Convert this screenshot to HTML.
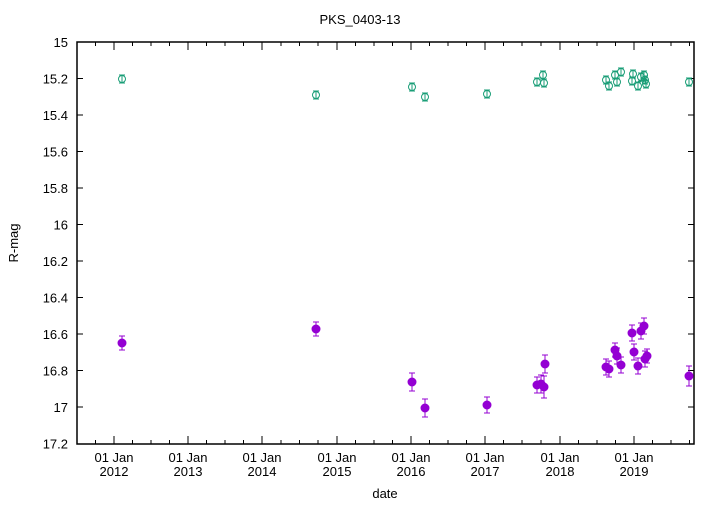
<!DOCTYPE html><html><head><style>body{margin:0;background:#fff}</style></head><body>
<svg width="720" height="504" xmlns="http://www.w3.org/2000/svg" font-family="Liberation Sans, sans-serif" font-size="13">
<rect width="720" height="504" fill="#fff"/>
<text x="360" y="24" text-anchor="middle">PKS_0403-13</text>
<rect x="77" y="42" width="617" height="402" fill="none" stroke="#000" stroke-width="1.5"/>
<g text-anchor="end">
<text x="68" y="47">15</text><text x="68" y="83.5">15.2</text><text x="68" y="120">15.4</text><text x="68" y="156.5">15.6</text><text x="68" y="193">15.8</text><text x="68" y="229.5">16</text><text x="68" y="266">16.2</text><text x="68" y="302.5">16.4</text><text x="68" y="339">16.6</text><text x="68" y="375.5">16.8</text><text x="68" y="412">17</text><text x="68" y="448.5">17.2</text>
</g>
<g text-anchor="middle">
<text x="114" y="462">01 Jan</text><text x="114" y="476">2012</text>
<text x="188" y="462">01 Jan</text><text x="188" y="476">2013</text>
<text x="262" y="462">01 Jan</text><text x="262" y="476">2014</text>
<text x="337" y="462">01 Jan</text><text x="337" y="476">2015</text>
<text x="411" y="462">01 Jan</text><text x="411" y="476">2016</text>
<text x="485" y="462">01 Jan</text><text x="485" y="476">2017</text>
<text x="560" y="462">01 Jan</text><text x="560" y="476">2018</text>
<text x="634" y="462">01 Jan</text><text x="634" y="476">2019</text>
<text x="385" y="498">date</text>
</g>
<text transform="translate(18,243) rotate(-90)" text-anchor="middle">R-mag</text>
<path stroke="#000" fill="none" d="
M77 78.5h6M694 78.5h-6M77 115h6M694 115h-6M77 151.5h6M694 151.5h-6M77 188h6M694 188h-6M77 224.5h6M694 224.5h-6M77 261h6M694 261h-6M77 297.5h6M694 297.5h-6M77 334h6M694 334h-6M77 370.5h6M694 370.5h-6M77 407h6M694 407h-6
M114 444v-8M114 42v8M188 444v-8M188 42v8M262 444v-8M262 42v8M337 444v-8M337 42v8M411 444v-8M411 42v8M485 444v-8M485 42v8M560 444v-8M560 42v8M634 444v-8M634 42v8
M95.5 444v-4M95.5 42v4M132.5 444v-4M132.5 42v4M151 444v-4M151 42v4M169.5 444v-4M169.5 42v4M206.5 444v-4M206.5 42v4M225 444v-4M225 42v4M243.5 444v-4M243.5 42v4M281 444v-4M281 42v4M299.5 444v-4M299.5 42v4M318 444v-4M318 42v4M355.5 444v-4M355.5 42v4M374 444v-4M374 42v4M392.5 444v-4M392.5 42v4M429.5 444v-4M429.5 42v4M448 444v-4M448 42v4M466.5 444v-4M466.5 42v4M503.5 444v-4M503.5 42v4M522 444v-4M522 42v4M541 444v-4M541 42v4M578.5 444v-4M578.5 42v4M597 444v-4M597 42v4M615.5 444v-4M615.5 42v4M652.5 444v-4M652.5 42v4M671 444v-4M671 42v4M689.5 444v-4M689.5 42v4"/>
<g stroke="#1a9e77" fill="none" stroke-width="1">
<path d="M122 75v8M119 75h6M119 83h6 M316 91v8M313 91h6M313 99h6 M412 83v8M409 83h6M409 91h6 M425 93v8M422 93h6M422 101h6 M487 90v8M484 90h6M484 98h6 M537 78v8M534 78h6M534 86h6 M543 71v8M540 71h6M540 79h6 M544 79v8M541 79h6M541 87h6 M606 76v8M603 76h6M603 84h6 M609 82v8M606 82h6M606 90h6 M615 71v8M612 71h6M612 79h6 M617 78v8M614 78h6M614 86h6 M621 68v8M618 68h6M618 76h6 M633 70v8M630 70h6M630 78h6 M632 77v8M629 77h6M629 85h6 M638 82v8M635 82h6M635 90h6 M641 73v8M638 73h6M638 81h6 M644 71v8M641 71h6M641 79h6 M645 76v8M642 76h6M642 84h6 M646 80v8M643 80h6M643 88h6 M689 78v8M686 78h6M686 86h6"/>
<circle cx="122" cy="79" r="3.5"/><circle cx="316" cy="95" r="3.5"/><circle cx="412" cy="87" r="3.5"/><circle cx="425" cy="97" r="3.5"/><circle cx="487" cy="94" r="3.5"/><circle cx="537" cy="82" r="3.5"/><circle cx="543" cy="75" r="3.5"/><circle cx="544" cy="83" r="3.5"/><circle cx="606" cy="80" r="3.5"/><circle cx="609" cy="86" r="3.5"/><circle cx="615" cy="75" r="3.5"/><circle cx="617" cy="82" r="3.5"/><circle cx="621" cy="72" r="3.5"/><circle cx="633" cy="74" r="3.5"/><circle cx="632" cy="81" r="3.5"/><circle cx="638" cy="86" r="3.5"/><circle cx="641" cy="77" r="3.5"/><circle cx="644" cy="75" r="3.5"/><circle cx="645" cy="80" r="3.5"/><circle cx="646" cy="84" r="3.5"/><circle cx="689" cy="82" r="3.5"/>
</g>
<g stroke="#9400d3" fill="#9400d3" stroke-width="1">
<path fill="none" d="M122 336v14M119 336h6M119 350h6 M316 322v14M313 322h6M313 336h6 M412 373v18M409 373h6M409 391h6 M425 399v18M422 399h6M422 417h6 M487 397v16M484 397h6M484 413h6 M537 377v16M534 377h6M534 393h6 M541 375v18M538 375h6M538 393h6 M544 376v22M541 376h6M541 398h6 M545 355v18M542 355h6M542 373h6 M606 359v16M603 359h6M603 375h6 M609 361v16M606 361h6M606 377h6 M615 343v14M612 343h6M612 357h6 M617 348v16M614 348h6M614 364h6 M621 357v16M618 357h6M618 373h6 M632 325v16M629 325h6M629 341h6 M634 344v16M631 344h6M631 360h6 M638 358v16M635 358h6M635 374h6 M641 323v16M638 323h6M638 339h6 M644 318v16M641 318h6M641 334h6 M645 351v16M642 351h6M642 367h6 M647 349v14M644 349h6M644 363h6 M689 366v20M686 366h6M686 386h6"/>
<circle cx="122" cy="343" r="4"/><circle cx="316" cy="329" r="4"/><circle cx="412" cy="382" r="4"/><circle cx="425" cy="408" r="4"/><circle cx="487" cy="405" r="4"/><circle cx="537" cy="385" r="4"/><circle cx="541" cy="384" r="4"/><circle cx="544" cy="387" r="4"/><circle cx="545" cy="364" r="4"/><circle cx="606" cy="367" r="4"/><circle cx="609" cy="369" r="4"/><circle cx="615" cy="350" r="4"/><circle cx="617" cy="356" r="4"/><circle cx="621" cy="365" r="4"/><circle cx="632" cy="333" r="4"/><circle cx="634" cy="352" r="4"/><circle cx="638" cy="366" r="4"/><circle cx="641" cy="331" r="4"/><circle cx="644" cy="326" r="4"/><circle cx="645" cy="359" r="4"/><circle cx="647" cy="356" r="4"/><circle cx="689" cy="376" r="4"/>
</g>
</svg>
</body></html>
